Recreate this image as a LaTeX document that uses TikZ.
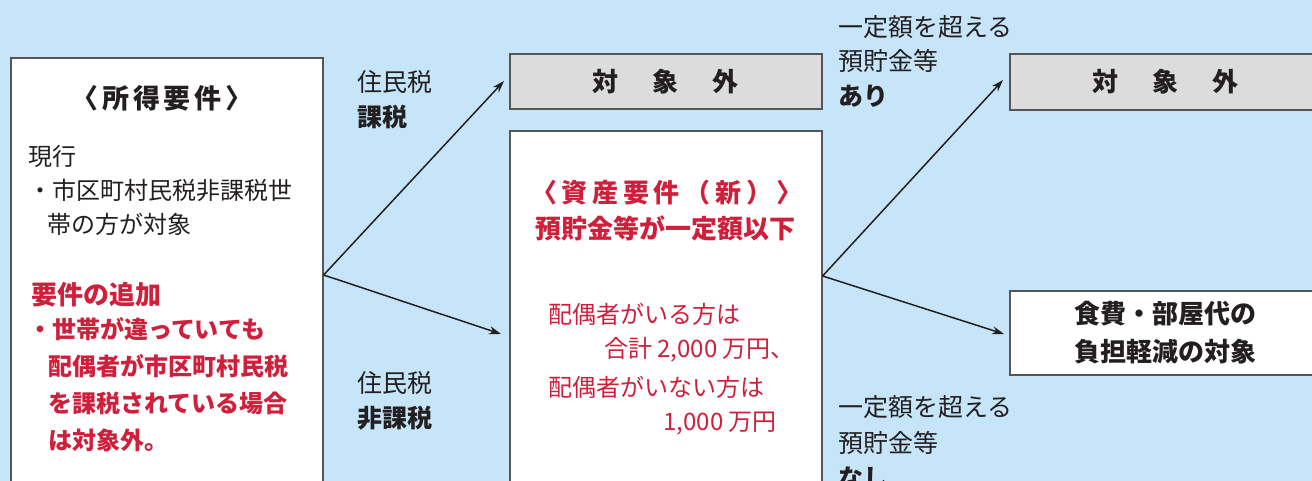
\documentclass[tikz,border=0pt]{standalone}
\usepackage{fontspec}
\setmainfont{Noto Sans CJK JP}
\usetikzlibrary{arrows.meta}
\definecolor{bg}{HTML}{C6E5F8}
\definecolor{ink}{HTML}{231F20}
\definecolor{jred}{HTML}{CF1F3B}
\definecolor{boxgray}{HTML}{DCDCDC}
\definecolor{edge}{HTML}{555555}
\tikzset{
  box/.style={draw=edge, line width=1.6pt, inner sep=0pt, anchor=north west, minimum width=312pt},
  txt/.style={anchor=west, inner sep=0pt, text=ink, font=\fontsize{24}{24}\selectfont},
  rtxt/.style={txt, text=jred},
  lbl/.style={anchor=west, inner sep=0pt, text=ink, font=\fontsize{25}{25}\selectfont},
  arr/.style={draw=ink, line width=1.5pt, -{Stealth[length=12pt,width=8pt]}},
}
\begin{document}
\begin{tikzpicture}[x=1pt,y=-1pt]
\useasboundingbox (0,0) rectangle (1312,481);
\clip (0,0) rectangle (1312,481);
\fill[bg] (0,0) rectangle (1312,481);

% boxes
\node[box, fill=white, minimum height=460pt] (inc) at (10,57) {};
\node[box, fill=boxgray, minimum height=55pt, font=\fontsize{26}{26}\selectfont\bfseries, text=ink] (out1) at (509,53) {対\hspace{34pt}象\hspace{34pt}外};
\node[box, fill=white, minimum height=400pt] (asset) at (509,130) {};
\node[box, fill=boxgray, minimum height=56pt, font=\fontsize{26}{26}\selectfont\bfseries, text=ink] (out2) at (1009,53) {対\hspace{34pt}象\hspace{34pt}外};
\node[box, fill=white, minimum height=84pt, align=center, font=\fontsize{26}{38}\selectfont\bfseries, text=ink] (ok) at (1009,290) {食費・部屋代の\\負担軽減の対象};

% left box text
\node[txt, anchor=center, font=\fontsize{27}{27}\selectfont\bfseries\addfontfeature{LetterSpace=14}] (t1) at (162,98) {〈所得要件〉};
\node[txt] (t2) at (28,156) {現行};
\node[txt] (t3) at (28,190) {・市区町村民税非課税世};
\node[txt] (t4) at (47,224) {帯の方が対象};
\node[rtxt, font=\fontsize{26}{26}\selectfont\bfseries] (t5) at (31,295) {要件の追加};
\node[rtxt, font=\fontsize{24}{24}\selectfont\bfseries] (t6) at (28,329) {・世帯が違っていても};
\node[rtxt, font=\fontsize{24}{24}\selectfont\bfseries] (t7) at (48,366) {配偶者が市区町村民税};
\node[rtxt, font=\fontsize{24}{24}\selectfont\bfseries] (t8) at (48,403) {を課税されている場合};
\node[rtxt, font=\fontsize{24}{24}\selectfont\bfseries] (t9) at (48,440) {は対象外。};

% middle box text
\node[rtxt, anchor=center, font=\fontsize{26}{26}\selectfont\bfseries\addfontfeature{LetterSpace=18}] (m1) at (667,193) {〈資産要件（新）〉};
\node[rtxt, anchor=center, font=\fontsize{26}{26}\selectfont\bfseries] (m2) at (665,228) {預貯金等が一定額以下};
\node[rtxt] (m3) at (548,314) {配偶者がいる方は};
\node[rtxt, anchor=east] (m4) at (795,350) {合計 2,000 万円、};
\node[rtxt] (m5) at (548,387) {配偶者がいない方は};
\node[rtxt, anchor=east] (m6) at (777,424) {1,000 万円};

% arrow labels
\node[lbl] (l1) at (357,82) {住民税};
\node[lbl, font=\fontsize{25}{25}\selectfont\bfseries] (l2) at (357,117) {課税};
\node[lbl] (l3) at (357,383) {住民税};
\node[lbl, font=\fontsize{25}{25}\selectfont\bfseries] (l4) at (357,418) {非課税};
\node[lbl] (r1) at (838,27) {一定額を超える};
\node[lbl] (r2) at (838,61) {預貯金等};
\node[lbl, font=\fontsize{25}{25}\selectfont\bfseries] (r3) at (838,96) {あり};
\node[lbl] (r4) at (838,407) {一定額を超える};
\node[lbl] (r5) at (838,443) {預貯金等};
\node[lbl, font=\fontsize{25}{25}\selectfont\bfseries] (r6) at (838,478) {なし};

% connectors
\coordinate (s1) at (inc.east |- 0,275);
\coordinate (s2) at (asset.east |- 0,276);
\coordinate (e1) at (504,81);
\coordinate (e2) at (501,334);
\coordinate (e3) at (1003,80);
\coordinate (e4) at (1004,334);
\draw[arr] (s1) -- (e1);
\draw[arr] (s1) -- (e2);
\draw[arr] (s2) -- (e3);
\draw[arr] (s2) -- (e4);
\end{tikzpicture}
\end{document}
